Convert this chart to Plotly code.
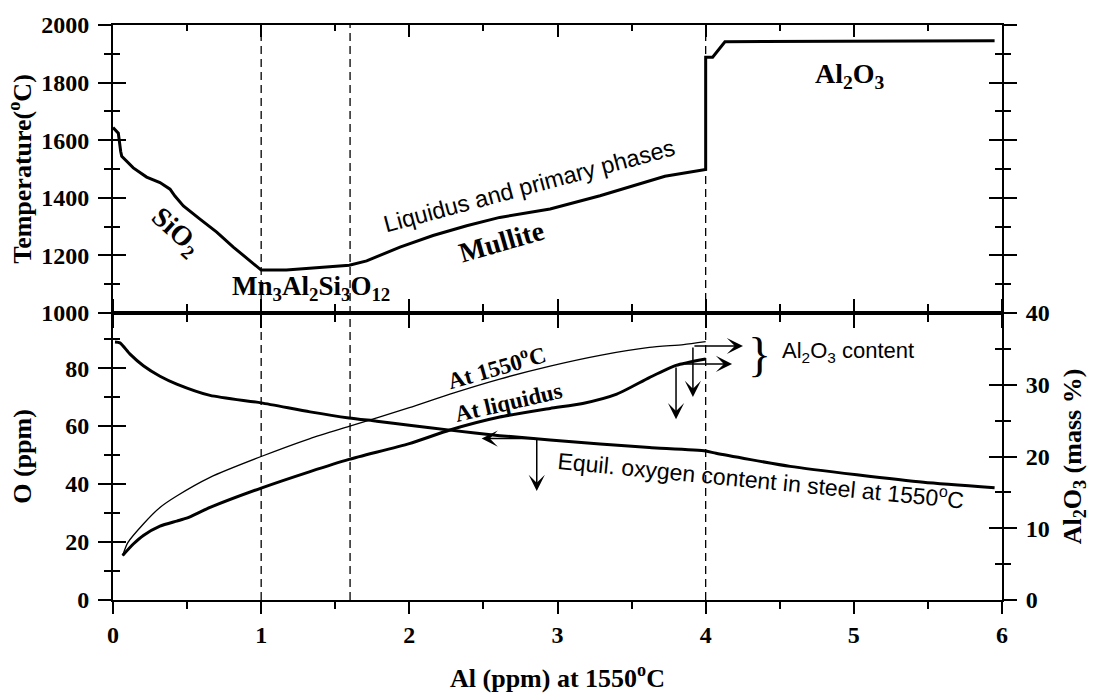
import plotly.graph_objects as go

# Liquidus temperature vs dissolved Al (upper panel)
al_liq = [0.0, 0.036, 0.052, 0.059, 0.137, 0.227, 0.317, 0.385, 0.418, 0.475, 0.587, 0.70, 0.812,
          1.0, 1.17, 1.595, 1.712, 1.937, 2.16, 2.387, 2.61, 2.95, 3.287, 3.725, 4.0, 4.0, 4.047,
          4.13, 5.95]
temp_liq = [1644, 1624, 1561, 1544, 1504, 1472, 1453, 1430, 1406, 1372, 1326, 1281, 1229,
            1149, 1149, 1166, 1181, 1229, 1269, 1303, 1332, 1361, 1407, 1475, 1498, 1888, 1888,
            1942, 1945]

# Equilibrium oxygen in steel at 1550 C (lower panel, left axis)
al_oxy = [0.0135, 0.047, 0.115, 0.205, 0.317, 0.43, 0.655, 1.0, 1.33, 1.593, 1.78, 2.0, 2.274,
          2.61, 2.95, 3.287, 3.62, 4.0, 4.07, 4.57, 5.02, 5.47, 5.95]
oxy_ppm = [89.0, 88.7, 84.8, 80.8, 77.2, 74.5, 70.6, 68.0, 64.9, 62.8, 61.7, 60.3, 58.6,
           56.7, 55.2, 53.8, 52.6, 51.4, 50.6, 46.1, 43.2, 40.6, 38.7]

# Al2O3 content of the inclusion at 1550 C (lower panel, right axis)
al_1550 = [0.065, 0.10, 0.205, 0.317, 0.43, 0.655, 1.0, 1.33, 1.593, 2.0, 2.274, 2.61, 2.95,
           3.287, 3.62, 3.85, 4.0]
alumina_1550 = [6.2, 8.0, 10.6, 12.9, 14.5, 17.1, 20.0, 22.5, 24.2, 26.8, 28.7, 30.8, 32.6,
                34.1, 35.2, 35.6, 36.0]

# Al2O3 content of the inclusion at the liquidus
al_liqd = [0.065, 0.137, 0.205, 0.317, 0.43, 0.497, 0.655, 1.0, 1.33, 1.593, 2.0, 2.274, 2.61,
           2.95, 3.17, 3.4, 3.62, 3.80, 4.0]
alumina_liqd = [6.2, 7.8, 9.0, 10.3, 11.0, 11.4, 12.9, 15.6, 17.9, 19.6, 21.8, 23.7, 25.5,
                26.7, 27.4, 28.7, 31.0, 32.7, 33.6]

# Primary-phase boundaries along the Al axis
phase_bounds = [1.0, 1.6, 4.0]

SERIF = "Liberation Serif"
SANS = "Liberation Sans"
BLACK = "#000000"
SPLIT = 0.4991

fig = go.Figure()
fig.add_trace(go.Scatter(x=al_liq, y=temp_liq, xaxis="x2", yaxis="y2", mode="lines",
                         line=dict(color=BLACK, width=3)))
fig.add_trace(go.Scatter(x=al_oxy, y=oxy_ppm, xaxis="x", yaxis="y", mode="lines",
                         line=dict(color=BLACK, width=3, shape="spline", smoothing=0.6)))
fig.add_trace(go.Scatter(x=al_1550, y=alumina_1550, xaxis="x", yaxis="y3", mode="lines",
                         line=dict(color=BLACK, width=1.3, shape="spline", smoothing=0.6)))
fig.add_trace(go.Scatter(x=al_liqd, y=alumina_liqd, xaxis="x", yaxis="y3", mode="lines",
                         line=dict(color=BLACK, width=3, shape="spline", smoothing=0.6)))

# Single-point line traces draw nothing; they only register the extra tick axes
# (inward ticks) so plotly renders them.
for xa, ya, y0 in [("x3", "y2", 1000), ("x2", "y6", 1000), ("x", "y4", 0), ("x", "y5", 0)]:
    fig.add_trace(go.Scatter(x=[0], y=[y0], xaxis=xa, yaxis=ya, mode="lines",
                             line=dict(color=BLACK, width=0), hoverinfo="skip"))

for xb in phase_bounds:
    fig.add_shape(type="line", xref="x", yref="paper", x0=xb, x1=xb, y0=0, y1=1,
                  line=dict(color=BLACK, width=1.3, dash="8px,5px"))

tickfont = dict(family=SERIF, size=24, color=BLACK, weight="bold")
titlefont = dict(family=SERIF, size=26, color=BLACK, weight="bold")
common = dict(showgrid=False, zeroline=False, linecolor=BLACK, linewidth=2,
              tickcolor=BLACK, tickwidth=2)

fig.update_layout(
    width=1097, height=700,
    margin=dict(l=113, r=95, t=19, b=100),
    paper_bgcolor="white", plot_bgcolor="white",
    showlegend=False,
    xaxis=dict(domain=[0, 1], anchor="y", range=[0, 6], dtick=1, tick0=0,
               ticks="outside", ticklen=12, mirror="ticks", showline=True,
               minor=dict(dtick=0.5, ticks="outside", ticklen=7, tickwidth=2, tickcolor=BLACK),
               tickfont=tickfont,
               title=dict(text="Al (ppm) at 1550<sup>o</sup>C", font=titlefont, standoff=22),
               **common),
    xaxis2=dict(anchor="y2", matches="x", range=[0, 6], dtick=1, tick0=0,
                ticks="outside", ticklen=13, showline=True, showticklabels=False,
                minor=dict(dtick=0.5, ticks="outside", ticklen=7, tickwidth=2, tickcolor=BLACK),
                **common),
    xaxis3=dict(overlaying="x2", anchor="y2", side="top", range=[0, 6], dtick=1, tick0=0,
                ticks="inside", ticklen=12, showline=True, showticklabels=False,
                minor=dict(dtick=0.5, ticks="inside", ticklen=6, tickwidth=2, tickcolor=BLACK),
                **common),
    yaxis=dict(domain=[0, SPLIT], anchor="x", range=[0, 99], dtick=20, tick0=0,
               ticks="outside", ticklen=13, showline=True, ticklabelstandoff=4,
               minor=dict(dtick=10, ticks="outside", ticklen=7, tickwidth=2, tickcolor=BLACK),
               tickfont=tickfont,
               title=dict(text="O (ppm)", font=titlefont, standoff=26),
               **common),
    yaxis4=dict(overlaying="y", anchor="x", side="left", range=[0, 99], dtick=20, tick0=0,
                ticks="inside", ticklen=13, showline=False, showticklabels=False,
                minor=dict(dtick=10, ticks="inside", ticklen=7, tickwidth=2, tickcolor=BLACK),
                **common),
    yaxis3=dict(overlaying="y", anchor="x", side="right", range=[0, 40], dtick=10, tick0=0,
                ticks="outside", ticklen=13, showline=True, ticklabelstandoff=4,
                minor=dict(dtick=5, ticks="outside", ticklen=7, tickwidth=2, tickcolor=BLACK),
                tickfont=tickfont,
                title=dict(text="Al<sub>2</sub>O<sub>3</sub> (mass %)", font=titlefont, standoff=14),
                **common),
    yaxis5=dict(overlaying="y", anchor="x", side="right", range=[0, 40], dtick=10, tick0=0,
                ticks="inside", ticklen=13, showline=False, showticklabels=False,
                minor=dict(dtick=5, ticks="inside", ticklen=7, tickwidth=2, tickcolor=BLACK),
                **common),
    yaxis2=dict(domain=[SPLIT, 1], anchor="x2", range=[1000, 2000], dtick=200, tick0=1000,
                ticks="outside", ticklen=13, showline=True, mirror="ticks", ticklabelstandoff=4,
                minor=dict(dtick=100, ticks="outside", ticklen=7, tickwidth=2, tickcolor=BLACK),
                tickfont=tickfont,
                title=dict(text="Temperature(<sup>o</sup>C)", font=titlefont, standoff=2),
                **common),
    yaxis6=dict(overlaying="y2", anchor="x2", range=[1000, 2000], dtick=200, tick0=1000,
                ticks="inside", ticklen=13, showline=False, mirror="ticks", showticklabels=False,
                minor=dict(dtick=100, ticks="inside", ticklen=7, tickwidth=2, tickcolor=BLACK),
                **common),
)

bold_serif = lambda s: dict(family=SERIF, size=s, color=BLACK, weight="bold")
sans = lambda s: dict(family=SANS, size=s, color=BLACK)

# Primary phase labels in the temperature panel
top_labels = [
    ("SiO<sub>2</sub>", 0.425, 1280, 42, bold_serif(28)),
    ("Mn<sub>3</sub>Al<sub>2</sub>Si<sub>3</sub>O<sub>12</sub>", 1.336, 1088, 0, bold_serif(27)),
    ("Mullite", 2.625, 1247, -16, bold_serif(28)),
    ("Liquidus and primary phases", 2.808, 1442, -15, sans(23.5)),
    ("Al<sub>2</sub>O<sub>3</sub>", 4.974, 1825, 0, bold_serif(28)),
]
for text, x, y, ang, font in top_labels:
    fig.add_annotation(text=text, x=x, y=y, xref="x2", yref="y2", showarrow=False,
                       textangle=ang, font=font)

# Curve labels in the lower panel (placed on the Al2O3 axis)
low_labels = [
    ("At 1550<sup>o</sup>C", 2.59, 32.6, -16, bold_serif(23)),
    ("At liquidus", 2.67, 27.5, -13, bold_serif(23)),
    ("Equil. oxygen content in steel at 1550<sup>o</sup>C", 4.373, 16.8, 5.6, sans(23)),
    ("}", 4.36, 34.2, 0, dict(family=SERIF, size=48, color=BLACK)),
    ("Al<sub>2</sub>O<sub>3</sub> content", 4.96, 34.5, 0, sans(22)),
]
for text, x, y, ang, font in low_labels:
    fig.add_annotation(text=text, x=x, y=y, xref="x", yref="y3", showarrow=False,
                       textangle=ang, font=font)

# Reading arrows: (tail x, tail y, tip x, tip y, y axis)
arrows = [
    (3.914, 35.4, 4.252, 35.4, "y3"),
    (3.914, 35.4, 3.914, 28.3, "y3"),
    (3.847, 32.9, 4.178, 32.9, "y3"),
    (3.800, 32.6, 3.800, 25.2, "y3"),
    (2.860, 55.7, 2.488, 55.7, "y"),
    (2.860, 55.7, 2.860, 37.6, "y"),
]
for x0, y0, x1, y1, yref in arrows:
    fig.add_annotation(x=x1, y=y1, ax=x0, ay=y0, xref="x", yref=yref, axref="x", ayref=yref,
                       text="", showarrow=True, arrowhead=3, arrowsize=1.8, arrowwidth=1.5,
                       arrowcolor=BLACK, standoff=0, startstandoff=0)

fig.write_html("out.html")
